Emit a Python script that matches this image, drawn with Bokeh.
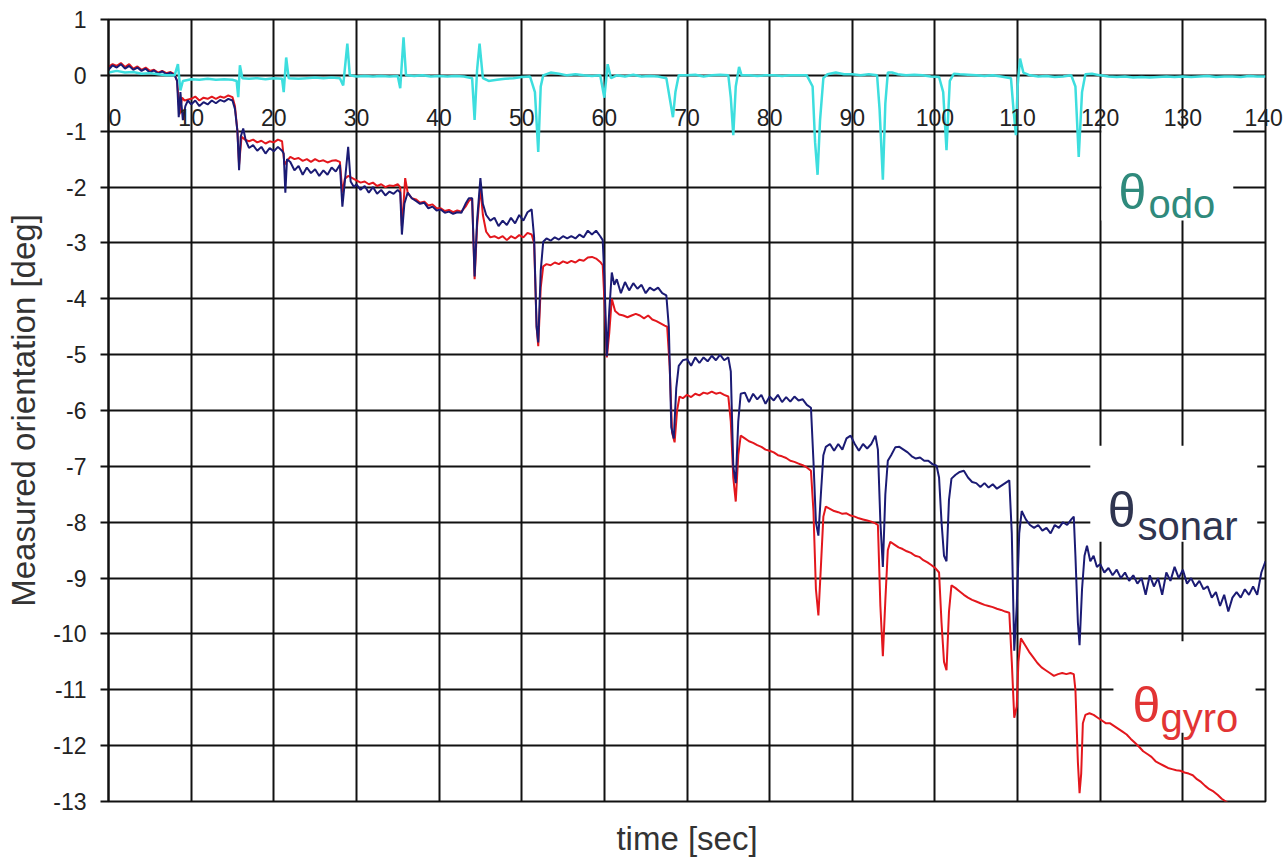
from bokeh.plotting import figure
from bokeh.models import Range1d, FixedTicker, Label, LinearAxis
from bokeh.embed import file_html
from bokeh.resources import INLINE

# ---------------- data ----------------
x_ticks = [0, 10, 20, 30, 40, 50, 60, 70, 80, 90, 100, 110, 120, 130, 140]
x_tick_labels = [str(v) for v in x_ticks]
y_ticks = [1, 0, -1, -2, -3, -4, -5, -6, -7, -8, -9, -10, -11, -12, -13]
y_tick_labels = [str(v) for v in y_ticks]

sonar_t = [0, 0.5, 1, 1.5, 2, 2.5, 3, 3.5, 4, 4.5, 5, 5.5, 6, 6.5, 7, 7.5, 8, 8.3, 8.5, 8.7, 9, 9.3, 9.6,
           10, 10.5, 11, 11.5, 12, 12.5, 13, 13.5, 14, 14.5, 15, 15.3, 15.6, 15.8, 16.0, 16.3, 16.6, 17,
           17.5, 18, 18.5, 19, 19.5, 20, 20.5, 21, 21.2, 21.4, 21.6, 22, 22.5, 23, 23.5, 24, 24.5, 25,
           25.5, 26, 26.5, 27, 27.5, 28, 28.3, 28.6, 29.0, 29.3, 29.7, 30, 30.5, 31, 31.5, 32, 32.5, 33,
           33.5, 34, 34.5, 35, 35.3, 35.5, 35.8, 36.2, 36.7, 37.2, 37.7, 38.2, 38.7, 39.2, 39.7, 40.2,
           40.7, 41.2, 41.7, 42.2, 42.7, 43.2, 43.6, 44.0, 44.3, 44.6, 45.0, 45.3, 45.7, 46.2, 46.7, 47.2,
           47.7, 48.2, 48.7, 49.2, 49.7, 50.2, 50.7, 51.2, 51.5, 51.8, 52.0, 52.3, 52.6, 53, 53.5, 54,
           54.5, 55, 55.5, 56, 56.5, 57, 57.5, 58, 58.5, 59, 59.5, 59.8, 60.0, 60.3, 60.6, 60.9, 61.2,
           61.5, 62, 62.5, 63, 63.5, 64, 64.5, 65, 65.5, 66, 66.5, 67, 67.5, 67.8, 68.1, 68.4, 68.7, 69.0,
           69.5, 70, 70.5, 71, 71.5, 72, 72.5, 73, 73.5, 74, 74.5, 75, 75.3, 75.6, 75.9, 76.2, 76.5, 77,
           77.5, 78, 78.5, 79, 79.5, 80, 80.5, 81, 81.5, 82, 82.5, 83, 83.5, 84, 84.5, 85.0, 85.3, 85.6,
           85.9, 86.2, 86.5, 86.8, 87.3, 87.8, 88.3, 88.8, 89.3, 89.8, 90.3, 90.8, 91.3, 91.8, 92.3, 92.8,
           93.1, 93.4, 93.7, 94.0, 94.3, 94.7, 95.2, 95.7, 96.2, 96.7, 97.2, 97.7, 98.2, 98.7, 99.2, 99.7,
           100.2, 100.5, 100.8, 101.1, 101.4, 101.7, 102.0, 102.5, 103, 103.5, 104, 104.5, 105, 105.5,
           106, 106.5, 107, 107.5, 108, 108.5, 109.0, 109.3, 109.6, 109.9, 110.2, 110.5, 111, 111.5, 112,
           112.5, 113, 113.5, 114, 114.5, 115, 115.5, 116, 116.5, 116.8, 117.0, 117.3, 117.5, 117.8,
           118.1, 118.4, 118.8, 119.2, 119.6, 120, 120.5, 121, 121.5, 122, 122.5, 123, 123.5, 124, 124.5,
           125, 125.5, 126, 126.5, 127, 127.5, 128, 128.5, 129, 129.5, 130, 130.5, 131, 131.5, 132,
           132.5, 133, 133.5, 134, 134.5, 135, 135.5, 136, 136.5, 137, 137.5, 138, 138.5, 139, 139.5, 140]
sonar_v = [0.10, 0.18, 0.14, 0.20, 0.12, 0.17, 0.10, 0.14, 0.08, 0.12, 0.05, 0.09, 0.03, 0.07, 0.02, 0.05,
           0.0, -0.1, -0.75, -0.3, -0.8, -0.55, -0.45, -0.52, -0.45, -0.55, -0.48, -0.52, -0.45, -0.5,
           -0.44, -0.47, -0.42, -0.45, -0.6, -1.0, -1.7, -1.1, -0.95, -1.16, -1.3, -1.25, -1.35, -1.28, -1.4,
           -1.3, -1.36, -1.28, -1.35, -1.4, -2.1, -1.5, -1.55, -1.7, -1.62, -1.78, -1.65, -1.75, -1.68,
           -1.8, -1.7, -1.78, -1.65, -1.72, -1.6, -2.35, -1.9, -1.28, -1.9, -2.0, -1.95, -2.05, -1.98,
           -2.1, -2.0, -2.12, -2.05, -2.15, -2.08, -2.12, -2.05, -2.1, -2.85, -2.3, -2.1, -2.2, -2.25,
           -2.3, -2.28, -2.38, -2.35, -2.42, -2.4, -2.46, -2.44, -2.48, -2.45, -2.46, -2.3, -2.2, -2.2,
           -3.6, -2.6, -1.84, -2.3, -2.5, -2.6, -2.55, -2.7, -2.6, -2.68, -2.55, -2.65, -2.5, -2.6, -2.45,
           -2.4, -2.9, -4.5, -4.78, -3.5, -2.98, -2.92, -2.96, -2.9, -2.94, -2.88, -2.92, -2.88, -2.92,
           -2.85, -2.9, -2.78, -2.85, -2.78, -2.88, -2.95, -3.6, -5.03, -4.2, -3.53, -3.75, -3.65, -3.9,
           -3.7, -3.85, -3.72, -3.82, -3.75, -3.9, -3.8, -3.85, -3.8, -3.9, -3.94, -4.5, -6.3, -6.5, -5.6,
           -5.2, -5.1, -5.08, -5.2, -5.05, -5.15, -5.05, -5.12, -5.02, -5.1, -5.0, -5.1, -5.05, -5.3, -7.0,
           -7.3, -6.2, -5.7, -5.68, -5.85, -5.7, -5.8, -5.72, -5.88, -5.75, -5.82, -5.72, -5.85, -5.76,
           -5.84, -5.75, -5.82, -5.8, -5.9, -5.95, -6.9, -8.0, -8.24, -7.5, -6.8, -6.65, -6.6, -6.72,
           -6.6, -6.7, -6.5, -6.45, -6.6, -6.72, -6.6, -6.68, -6.6, -6.45, -6.7, -8.0, -8.8, -7.5, -6.9,
           -6.8, -6.66, -6.65, -6.7, -6.75, -6.82, -6.86, -6.84, -6.9, -6.9, -6.96, -6.99, -7.2, -8.0,
           -8.6, -8.7, -7.6, -7.22, -7.15, -7.1, -7.08, -7.2, -7.28, -7.3, -7.37, -7.3, -7.38, -7.32,
           -7.4, -7.35, -7.3, -7.25, -8.2, -10.3, -9.5, -8.2, -7.8, -7.95, -8.05, -8.1, -8.05, -8.15,
           -8.1, -8.2, -8.05, -8.1, -8.0, -8.05, -7.95, -7.9, -8.6, -9.8, -10.2, -9.2, -8.6, -8.42, -8.7,
           -8.6, -8.8, -8.75, -8.9, -8.82, -8.95, -8.85, -9.0, -8.9, -9.05, -8.95, -9.1, -9.0, -9.3,
           -8.95, -9.15, -9.0, -9.3, -8.9, -9.05, -8.8, -9.0, -8.85, -9.1, -9.0, -9.15, -9.05, -9.2,
           -9.15, -9.35, -9.25, -9.5, -9.3, -9.6, -9.35, -9.25, -9.35, -9.2, -9.3, -9.15, -9.3, -8.9,
           -8.7]

gyro_t = [0, 0.5, 1, 1.5, 2, 2.5, 3, 3.5, 4, 4.5, 5, 5.5, 6, 6.5, 7, 7.5, 8, 8.3, 8.6, 8.9, 9.2, 10, 10.5,
          11, 11.5, 12, 12.5, 13, 13.5, 14, 14.5, 15, 15.3, 15.6, 15.8, 16.1, 16.5, 17, 17.5, 18, 18.5,
          19, 19.5, 20, 20.5, 21, 21.3, 21.5, 22, 22.5, 23, 23.5, 24, 24.5, 25, 25.5, 26, 26.5, 27, 27.5,
          28, 28.3, 28.6, 29, 29.5, 30, 30.5, 31, 31.5, 32, 32.5, 33, 33.5, 34, 34.5, 35, 35.3, 35.5,
          35.7, 35.9, 36.2, 36.7, 37.2, 37.7, 38.2, 38.7, 39.2, 39.7, 40.2, 40.7, 41.2, 41.7, 42.2, 42.7,
          43.2, 43.6, 44.0, 44.3, 44.6, 45.0, 45.3, 45.7, 46.2, 46.7, 47.2, 47.7, 48.2, 48.7, 49.2, 49.7,
          50.2, 50.7, 51.2, 51.5, 51.8, 52.0, 52.3, 52.6, 53, 53.5, 54, 54.5, 55, 55.5, 56, 56.5, 57,
          57.5, 58, 58.5, 59, 59.5, 59.8, 60.0, 60.3, 60.6, 60.9, 61.3, 61.8, 62.3, 62.8, 63.3, 63.8,
          64.3, 64.8, 65.3, 65.8, 66.3, 66.8, 67.3, 67.6, 67.9, 68.2, 68.5, 68.8, 69.1, 69.5, 70, 70.5,
          71, 71.5, 72, 72.5, 73, 73.5, 74, 74.5, 75, 75.3, 75.6, 75.9, 76.2, 76.5, 77, 77.5, 78, 78.5,
          79, 79.5, 80, 80.5, 81, 81.5, 82, 82.5, 83, 83.5, 84, 84.5, 85.0, 85.3, 85.6, 85.9, 86.2, 86.5,
          86.8, 87.3, 87.8, 88.3, 88.8, 89.3, 89.8, 90.3, 90.8, 91.3, 91.8, 92.3, 92.8, 93.1, 93.4, 93.7,
          94.0, 94.3, 94.6, 95.1, 95.6, 96.1, 96.6, 97.1, 97.6, 98.1, 98.6, 99.1, 99.6, 100.1, 100.5,
          100.8, 101.1, 101.4, 101.7, 102.0, 102.5, 103, 103.5, 104, 104.5, 105, 105.5, 106, 106.5, 107,
          107.5, 108, 108.5, 109.0, 109.3, 109.6, 109.9, 110.1, 110.4, 110.9, 111.4, 111.9, 112.4,
          112.9, 113.4, 113.9, 114.4, 114.9, 115.4, 115.9, 116.4, 116.8, 117.0, 117.3, 117.5, 117.7,
          117.9, 118.2, 118.7, 119.2, 119.7, 120.2, 120.7, 121.2, 121.7, 122.2, 122.7, 123.2, 123.7,
          124.2, 124.7, 125.2, 125.7, 126.2, 126.7, 127.2, 127.7, 128.2, 128.7, 129.2, 129.7, 130.2,
          130.7, 131.2, 131.7, 132.2, 132.7, 133.2, 133.7, 134.2, 134.7, 135.2, 135.7, 136.2, 136.6]
gyro_v = [0.15, 0.2, 0.17, 0.22, 0.15, 0.2, 0.12, 0.16, 0.1, 0.14, 0.08, 0.1, 0.05, 0.08, 0.04, 0.06, 0.02,
          -0.1, -0.7, -0.4, -0.45, -0.42, -0.38, -0.45, -0.4, -0.42, -0.38, -0.42, -0.38, -0.4, -0.36,
          -0.39, -0.55, -1.0, -1.6, -1.1, -1.15, -1.18, -1.15, -1.2, -1.17, -1.22, -1.18, -1.2, -1.15,
          -1.18, -1.6, -1.55, -1.46, -1.5, -1.48, -1.53, -1.5, -1.55, -1.5, -1.54, -1.52, -1.56, -1.53,
          -1.52, -1.55, -2.1, -1.85, -1.8, -1.84, -1.88, -1.92, -1.9, -1.95, -1.92, -1.98, -1.95, -2.0,
          -1.97, -1.98, -1.95, -2.0, -2.7, -2.3, -1.84, -2.1, -2.2, -2.22, -2.28, -2.26, -2.33, -2.31,
          -2.38, -2.38, -2.43, -2.41, -2.45, -2.42, -2.44, -2.35, -2.25, -2.2, -3.65, -2.7, -2.0, -2.5,
          -2.8, -2.9, -2.88, -2.92, -2.88, -2.95, -2.88, -2.92, -2.86, -2.9, -2.82, -2.85, -3.0, -4.5,
          -4.85, -3.8, -3.42, -3.38, -3.4, -3.35, -3.38, -3.33, -3.36, -3.32, -3.35, -3.3, -3.32, -3.26,
          -3.25, -3.28, -3.34, -3.4, -4.0, -5.05, -4.6, -4.0, -4.22, -4.28, -4.3, -4.33, -4.3, -4.27,
          -4.3, -4.35, -4.3, -4.37, -4.4, -4.44, -4.48, -4.5, -5.2, -6.4, -6.57, -6.0, -5.75, -5.78,
          -5.72, -5.76, -5.7, -5.73, -5.68, -5.7, -5.66, -5.7, -5.68, -5.72, -5.75, -6.2, -7.2, -7.63,
          -6.8, -6.45, -6.5, -6.55, -6.58, -6.62, -6.65, -6.7, -6.72, -6.75, -6.8, -6.82, -6.85, -6.9,
          -6.92, -6.95, -6.98, -7.02, -7.08, -7.8, -9.2, -9.67, -8.8, -7.9, -7.72, -7.76, -7.8, -7.82,
          -7.85, -7.84, -7.88, -7.9, -7.93, -7.95, -7.97, -7.99, -8.02, -8.05, -9.5, -10.4, -9.4, -8.5,
          -8.35, -8.4, -8.45, -8.48, -8.52, -8.55, -8.6, -8.62, -8.68, -8.72, -8.77, -8.83, -8.9, -9.8,
          -10.5, -10.65, -9.6, -9.13, -9.18, -9.24, -9.3, -9.35, -9.39, -9.42, -9.45, -9.48, -9.5,
          -9.52, -9.55, -9.57, -9.6, -9.62, -10.5, -11.5, -11.3, -10.5, -10.08, -10.2, -10.32, -10.42,
          -10.52, -10.6, -10.65, -10.7, -10.75, -10.72, -10.7, -10.72, -10.7, -10.72, -11.0, -12.3,
          -12.85, -12.5, -11.6, -11.45, -11.42, -11.45, -11.5, -11.55, -11.6, -11.6, -11.65, -11.7,
          -11.75, -11.8, -11.88, -11.95, -12.02, -12.1, -12.15, -12.2, -12.28, -12.32, -12.36, -12.4,
          -12.42, -12.44, -12.45, -12.48, -12.5, -12.53, -12.6, -12.65, -12.72, -12.78, -12.82, -12.88,
          -12.95, -13.0, -13.05, -13.08, -13.1]

odo_t = [0, 1, 2, 3, 4, 5, 6, 7, 8, 8.4, 8.7, 9.0, 10, 11, 12, 13, 14, 15, 15.5, 15.7, 15.9, 16.2, 17,
         18, 19, 20, 21, 21.2, 21.5, 21.8, 23, 24, 25, 26, 27, 28, 28.4, 28.9, 29.2, 30, 31, 32, 33, 34,
         35, 35.3, 35.7, 36.0, 37, 38, 39, 40, 41, 42, 43, 44.0, 44.3, 44.6, 44.9, 45.3, 46, 47, 48, 49,
         50, 51, 51.6, 52.0, 52.3, 52.6, 53.5, 54.5, 55.5, 56.5, 57.5, 58.5, 59.5, 60.0, 60.4, 60.8,
         61.5, 62.5, 63.5, 64.5, 65.5, 66.5, 67.5, 67.9, 68.3, 68.6, 69.0, 70, 71, 72, 73, 74, 75.0,
         75.3, 75.6, 75.9, 76.3, 76.6, 77.5, 78.5, 79.5, 80.5, 81.5, 82.5, 83.5, 84.5, 85.2, 85.5, 85.8,
         86.1, 86.5, 87, 88, 89, 90, 91, 92, 93.0, 93.3, 93.7, 94.0, 94.3, 94.8, 95.5, 96.5, 97.5, 98.5,
         99.5, 100.5, 101.0, 101.4, 101.8, 102.3, 103, 104, 105, 106, 107, 108, 109.2, 109.5, 109.8,
         110.0, 110.3, 110.7, 111.5, 112.5, 113.5, 114.5, 115.5, 116.5, 117.0, 117.4, 117.8, 118.2, 119,
         120, 121, 122, 123, 124, 125, 126, 127, 128, 129, 130, 131, 132, 133, 134, 135, 136, 137, 138,
         139, 140]
odo_v = [0.05, 0.08, 0.05, 0.06, 0.03, 0.04, 0.02, 0.0, 0.0, 0.2, -0.27, -0.1, -0.07, -0.08, -0.06, -0.08,
         -0.07, -0.08, -0.1, -0.39, 0.18, -0.05, -0.06, -0.05, -0.07, -0.05, -0.06, -0.3, 0.32, -0.05,
         -0.06, -0.05, -0.04, -0.05, -0.04, -0.05, -0.18, 0.57, 0.0, -0.02, -0.01, -0.02, -0.01, -0.02,
         -0.01, -0.23, 0.68, 0.0, -0.01, 0.0, -0.02, -0.01, -0.02, -0.01, -0.02, -0.05, -0.8, 0.1, 0.57,
         -0.05, -0.1, -0.08, -0.06, -0.05, -0.03, -0.02, -0.3, -1.37, -0.2, 0.0, 0.05, 0.03, 0.0, 0.02,
         0.0, -0.01, 0.0, -0.4, 0.2, -0.05, 0.0, -0.02, 0.01, -0.02, -0.01, -0.02, -0.05, -0.4, -0.75,
         -0.3, 0.0, 0.0, 0.01, -0.02, 0.0, 0.01, 0.0, -0.4, -1.07, -0.2, 0.15, 0.0, 0.0, -0.01, 0.0, 0.0,
         -0.01, 0.0, 0.0, 0.0, -0.2, -1.2, -1.78, -0.8, -0.05, 0.02, 0.05, 0.02, 0.02, 0.0, 0.02, 0.0,
         -0.6, -1.87, -0.5, 0.05, 0.05, 0.02, 0.0, 0.01, 0.0, -0.02, -0.03, -0.3, -1.34, -0.1, 0.03, 0.02,
         0.01, 0.0, -0.01, 0.0, -0.02, -0.05, -0.6, -1.07, -0.2, 0.3, 0.05, 0.0, -0.02, -0.01, -0.03,
         -0.02, 0.0, -0.2, -1.46, -0.3, 0.02, 0.03, 0.0, -0.02, -0.03, -0.02, -0.04, -0.03, -0.04, -0.03,
         -0.02, -0.03, -0.02, -0.03, -0.02, -0.01, -0.03, -0.02, -0.02, -0.03, -0.01, -0.02, -0.02]

# ---------------- styling constants ----------------
FONT = "Liberation Sans"
SONAR_COLOR = "#1b1b74"
GYRO_COLOR = "#e3171d"
ODO_COLOR = "#3ddede"
GRID_COLOR = "#111111"
TEXT_COLOR = "#222222"
TITLE_COLOR = "#333333"
X_LABEL_ROW_Y = -0.75   # data-y of the row of time tick labels
NBSP = "\u00a0"

p = figure(width=1287, height=859,
           x_range=Range1d(0, 140), y_range=Range1d(-13, 1),
           output_backend="svg", toolbar_location=None,
           min_border_left=108, min_border_right=22,
           min_border_top=19, min_border_bottom=55)
p.background_fill_color = "white"
p.border_fill_color = "white"
p.outline_line_color = GRID_COLOR
p.outline_line_width = 2

# grids
p.xgrid.ticker = FixedTicker(ticks=x_ticks)
p.ygrid.ticker = FixedTicker(ticks=y_ticks)
for g in (p.xgrid, p.ygrid):
    g.grid_line_color = GRID_COLOR
    g.grid_line_width = 2

# bottom axis: only carries the title
xa = p.xaxis[0]
xa.ticker = FixedTicker(ticks=[])
xa.axis_line_color = None
xa.major_tick_line_color = None
xa.minor_tick_line_color = None
xa.axis_label = "time [sec]"
xa.axis_label_text_font = FONT
xa.axis_label_text_font_size = "33px"
xa.axis_label_text_font_style = "normal"
xa.axis_label_text_color = TITLE_COLOR
xa.axis_label_standoff = 18

# tick-label axis crossing at y = 0 (labels drawn just below the zero line)
inner_ticks = x_ticks[:-1]
inner_labels = list(x_tick_labels[:-1])
inner_labels[0] = NBSP * 2 + inner_labels[0]   # keep the "0" clear of the left frame edge
xa0 = LinearAxis(fixed_location=0)
xa0.ticker = FixedTicker(ticks=inner_ticks)
xa0.major_label_overrides = dict(zip(inner_ticks, inner_labels))
xa0.axis_line_color = None
xa0.major_tick_line_color = None
xa0.minor_tick_line_color = None
xa0.major_tick_out = 0
xa0.major_tick_in = 0
xa0.major_label_standoff = 30
xa0.major_label_text_font = FONT
xa0.major_label_text_font_size = "23px"
xa0.major_label_text_color = TEXT_COLOR
p.add_layout(xa0, "below")

# last time label ("140") sticks out past the right edge of the frame
ra = LinearAxis()
ra.ticker = FixedTicker(ticks=[X_LABEL_ROW_Y])
ra.major_label_overrides = {X_LABEL_ROW_Y: x_tick_labels[-1]}
ra.axis_line_color = None
ra.major_tick_line_color = None
ra.minor_tick_line_color = None
ra.major_tick_out = 0
ra.major_tick_in = 0
ra.major_label_standoff = -21
ra.major_label_text_font = FONT
ra.major_label_text_font_size = "23px"
ra.major_label_text_color = TEXT_COLOR
p.add_layout(ra, "right")

# y axis
ya = p.yaxis[0]
ya.ticker = FixedTicker(ticks=y_ticks)
ya.major_label_overrides = dict(zip(y_ticks, y_tick_labels))
ya.axis_line_color = GRID_COLOR
ya.axis_line_width = 2
ya.major_tick_line_color = GRID_COLOR
ya.major_tick_line_width = 2
ya.major_tick_out = 8
ya.major_tick_in = 0
ya.minor_tick_line_color = None
ya.major_label_standoff = 14
ya.major_label_text_font = FONT
ya.major_label_text_font_size = "23px"
ya.major_label_text_color = TEXT_COLOR
ya.axis_label = "Measured orientation [deg]"
ya.axis_label_text_font = FONT
ya.axis_label_text_font_size = "33px"
ya.axis_label_text_font_style = "normal"
ya.axis_label_text_color = TITLE_COLOR
ya.axis_label_standoff = 8

# white backing boxes behind the curve labels
box_left = [120.15, 118.8, 121.6]
box_right = [136.1, 139.0, 138.8]
box_top = [-0.95, -6.63, -10.13]
box_bottom = [-2.6, -8.35, -11.77]
p.quad(left=box_left, right=box_right, top=box_top, bottom=box_bottom,
       fill_color="white", line_color=None)

# data lines
p.line(gyro_t, gyro_v, line_color=GYRO_COLOR, line_width=2)
p.line(sonar_t, sonar_v, line_color=SONAR_COLOR, line_width=2)
p.line(odo_t, odo_v, line_color=ODO_COLOR, line_width=2.5)

# curve labels: theta + subscript
theta_x = [122.2, 120.9, 123.9]
theta_y = [-2.09, -7.79, -11.27]
sub_x = [125.85, 124.5, 127.3]
sub_y = [-2.30, -8.06, -11.50]
sub_text = ["odo", "sonar", "gyro"]
label_colors = ["#2f8a7c", "#2f3550", "#e23434"]
for tx, ty, sx, sy, st, c in zip(theta_x, theta_y, sub_x, sub_y, sub_text, label_colors):
    p.add_layout(Label(x=tx, y=ty, text="θ", text_font=FONT, text_font_size="50px",
                       text_color=c, text_baseline="alphabetic", text_align="left"))
    p.add_layout(Label(x=sx, y=sy, text=st, text_font=FONT, text_font_size="40px",
                       text_color=c, text_baseline="alphabetic", text_align="left"))

open("out.html", "w").write(file_html(p, INLINE))
